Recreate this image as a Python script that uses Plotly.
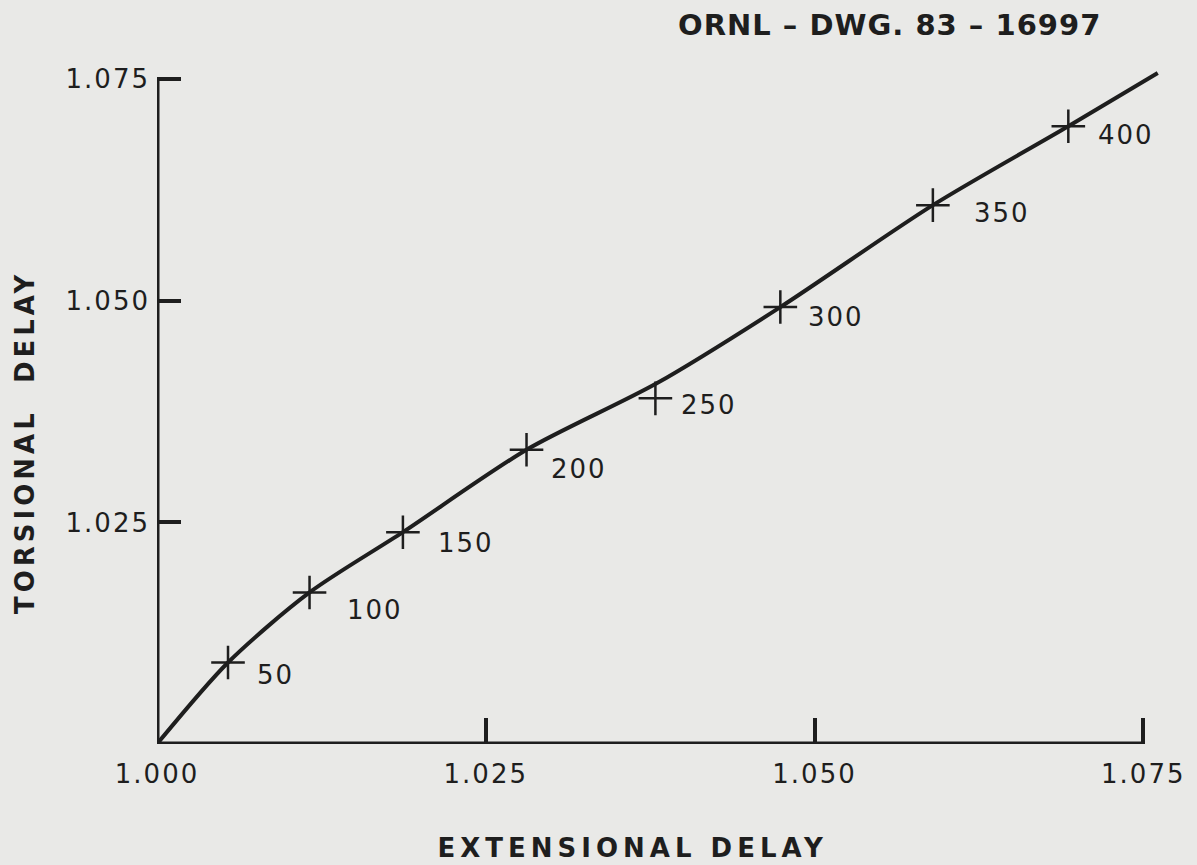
import plotly.graph_objects as go

# --- data ---
point_labels = ["50", "100", "150", "200", "250", "300", "350", "400"]
point_ext = [1.0054, 1.0116, 1.0187, 1.0281, 1.0379, 1.0474, 1.0590, 1.0693]
point_tor = [1.0092, 1.0171, 1.0239, 1.0332, 1.0390, 1.0493, 1.0608, 1.0697]

# smooth curve, read at the crosses and along the drawn line
curve_ext = [1.0000, 1.0054, 1.0116, 1.0187, 1.0281, 1.0380, 1.0474, 1.0590, 1.0693, 1.0761]
curve_tor = [1.0000, 1.0092, 1.0171, 1.0239, 1.0332, 1.0407, 1.0493, 1.0608, 1.0697, 1.0757]

tick_vals = [1.000, 1.025, 1.050, 1.075]
x_tick_text = ["1.000", "1.025", "1.050", "1.075"]
y_tick_text = ["", "1.025", "1.050", "1.075"]

# label offsets (pixels) relative to each cross
label_dx = [29, 38, 36, 25, 27, 29, 42, 31]
label_dy = [-13, -18, -11, -19, -7, -10, -8, -9]

INK = "#1e1e1e"
BG = "#e9e9e7"
FONT = "DejaVu Sans"

fig = go.Figure()

fig.add_trace(go.Scatter(
    x=curve_ext, y=curve_tor, mode="lines",
    line=dict(color=INK, width=4, shape="spline", smoothing=0.8),
    hoverinfo="skip", showlegend=False,
))

fig.add_trace(go.Scatter(
    x=point_ext, y=point_tor, mode="markers",
    marker=dict(symbol="cross-thin", size=24, line=dict(color=INK, width=2.5)),
    showlegend=False,
))

for lab, xv, yv, dx, dy in zip(point_labels, point_ext, point_tor, label_dx, label_dy):
    fig.add_annotation(x=xv, y=yv, text=lab, showarrow=False,
                       xanchor="left", yanchor="middle", xshift=dx, yshift=dy,
                       font=dict(family=FONT, size=26, color=INK))

# axis lines limited to the labelled range
fig.add_shape(type="line", x0=tick_vals[0], x1=tick_vals[-1], y0=tick_vals[0], y1=tick_vals[0],
              xref="x", yref="y", line=dict(color=INK, width=5))
fig.add_shape(type="line", x0=tick_vals[0], x1=tick_vals[0], y0=tick_vals[0], y1=tick_vals[-1],
              xref="x", yref="y", line=dict(color=INK, width=5))

fig.add_annotation(text="<b>EXTENSIONAL DELAY</b>", xref="paper", yref="paper", x=0.474, y=-0.1534,
                   xanchor="center", yanchor="middle",
                   showarrow=False, font=dict(family=FONT, size=26, color=INK))
fig.add_annotation(text="<b>TORSIONAL  DELAY</b>", xref="paper", yref="paper", x=-0.1312, y=0.4454,
                   xanchor="center", yanchor="middle",
                   showarrow=False, textangle=-90, font=dict(family=FONT, size=26, color=INK))
fig.add_annotation(text="<b>ORNL – DWG. 83 – 16997</b>", xref="paper", yref="paper", x=0.7286, y=1.0605,
                   xanchor="center", yanchor="middle",
                   showarrow=False, font=dict(family=FONT, size=29, color=INK))

fig.update_xaxes(range=[1.0, 1.0765], tickvals=tick_vals, ticktext=x_tick_text,
                 ticks="inside", ticklen=26, tickwidth=4, tickcolor=INK, ticklabelstandoff=12,
                 showgrid=False, zeroline=False, showline=False,
                 tickfont=dict(family=FONT, size=26, color=INK))
fig.update_yaxes(range=[1.0, 1.0765], tickvals=tick_vals, ticktext=y_tick_text,
                 ticks="inside", ticklen=24, tickwidth=4, tickcolor=INK, ticklabelstandoff=6,
                 showgrid=False, zeroline=False, showline=False,
                 tickfont=dict(family=FONT, size=26, color=INK))

fig.update_layout(
    width=1197, height=865,
    margin=dict(l=157, r=34, t=66, b=121),
    paper_bgcolor=BG, plot_bgcolor=BG,
    showlegend=False,
)

post = """
document.body.style.margin = '0';
document.body.style.background = '%s';
document.body.style.overflow = 'hidden';
var gd = document.getElementById('{plot_id}');
function spacing() {
  document.querySelectorAll('.annotation-text').forEach(function (t) {
    var s = t.textContent;
    if (s.indexOf('EXTENSIONAL') >= 0) { t.style.letterSpacing = '5px'; }
    else if (s.indexOf('TORSIONAL') >= 0) { t.style.letterSpacing = '4px'; }
    else if (s.indexOf('ORNL') >= 0) { t.style.letterSpacing = '1px'; }
    else { t.style.letterSpacing = '2px'; }
  });
  document.querySelectorAll('.xtick text, .ytick text').forEach(function (t) {
    t.style.letterSpacing = '2px';
  });
}
spacing();
if (gd && gd.on) { gd.on('plotly_afterplot', spacing); }
setTimeout(spacing, 50);
setTimeout(spacing, 300);
""" % BG

fig.write_html("out.html", post_script=post, config={"displayModeBar": False})
